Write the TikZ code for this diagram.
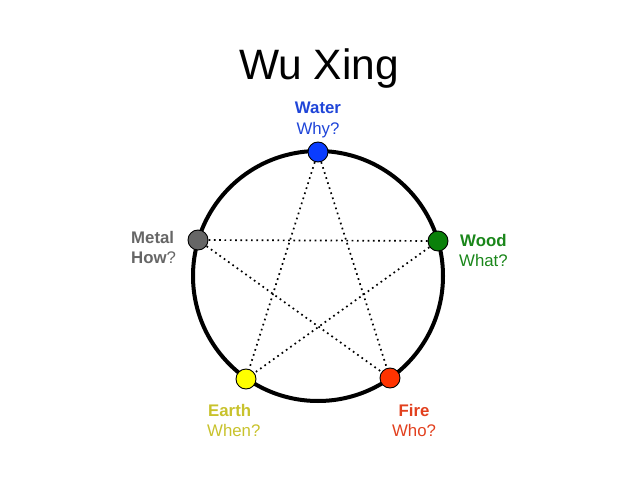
\documentclass[tikz,border=0pt]{standalone}
\usepackage{fontspec}
\setmainfont{Liberation Sans}
\definecolor{waterT}{HTML}{1F45D8}
\definecolor{waterD}{HTML}{0A3CFF}
\definecolor{woodT}{HTML}{1A861A}
\definecolor{woodD}{HTML}{0A800A}
\definecolor{metalT}{HTML}{666666}
\definecolor{metalD}{HTML}{666666}
\definecolor{earthT}{HTML}{C8C22C}
\definecolor{earthD}{HTML}{FFFF00}
\definecolor{fireT}{HTML}{E2401E}
\definecolor{fireD}{HTML}{FF3300}
\begin{document}
\begin{tikzpicture}[x=1pt,y=-1pt,
  dot/.style={circle,draw=black,line width=0.9pt,minimum size=20pt,inner sep=0pt},
  star/.style={line width=1.7pt,dash pattern=on 1.7pt off 3.6pt},
  lab/.style={inner sep=0pt,font=\fontsize{16.8}{19}\selectfont}]
\useasboundingbox (0,0) rectangle (638,479);
\node[anchor=base,inner sep=0pt,font=\fontsize{42.5}{50}\selectfont] (title) at (319,79) {Wu Xing};
\coordinate (c) at (318,276);
\draw[line width=4pt] (c) circle[radius=125];
\coordinate (pwater) at (318,152);
\coordinate (pwood) at (438,241);
\coordinate (pfire) at (390,378);
\coordinate (pearth) at (246,379);
\coordinate (pmetal) at (198,240);
\draw[star] (pwater) -- (pearth);
\draw[star] (pwater) -- (pfire);
\draw[star] (pmetal) -- (pwood);
\draw[star] (pmetal) -- (pfire);
\draw[star] (pwood) -- (pearth);
\node[dot,fill=waterD] (water) at (pwater) {};
\node[dot,fill=woodD] (wood) at (pwood) {};
\node[dot,fill=fireD] (fire) at (pfire) {};
\node[dot,fill=earthD] (earth) at (pearth) {};
\node[dot,fill=metalD] (metal) at (pmetal) {};
% labels
\node[lab,anchor=base,text=waterT] (waterA) at (318,113) {\textbf{Water}};
\node[lab,anchor=base,text=waterT] (waterB) at (318,134) {Why?};
\node[lab,anchor=base west,text=woodT] (woodA) at (460,246) {\textbf{Wood}};
\node[lab,anchor=base west,text=woodT] (woodB) at (459,266) {What?};
\node[lab,anchor=base west,text=metalT] (metalA) at (131,243) {\textbf{Metal}};
\node[lab,anchor=base west,text=metalT] (metalB) at (131,263) {\textbf{How}?};
\node[lab,anchor=base west,text=earthT] (earthA) at (208,416) {\textbf{Earth}};
\node[lab,anchor=base west,text=earthT] (earthB) at (207,436) {When?};
\node[lab,anchor=base,text=fireT] (fireA) at (414,416) {\textbf{Fire}};
\node[lab,anchor=base,text=fireT] (fireB) at (414,436) {Who?};
\end{tikzpicture}
\end{document}
